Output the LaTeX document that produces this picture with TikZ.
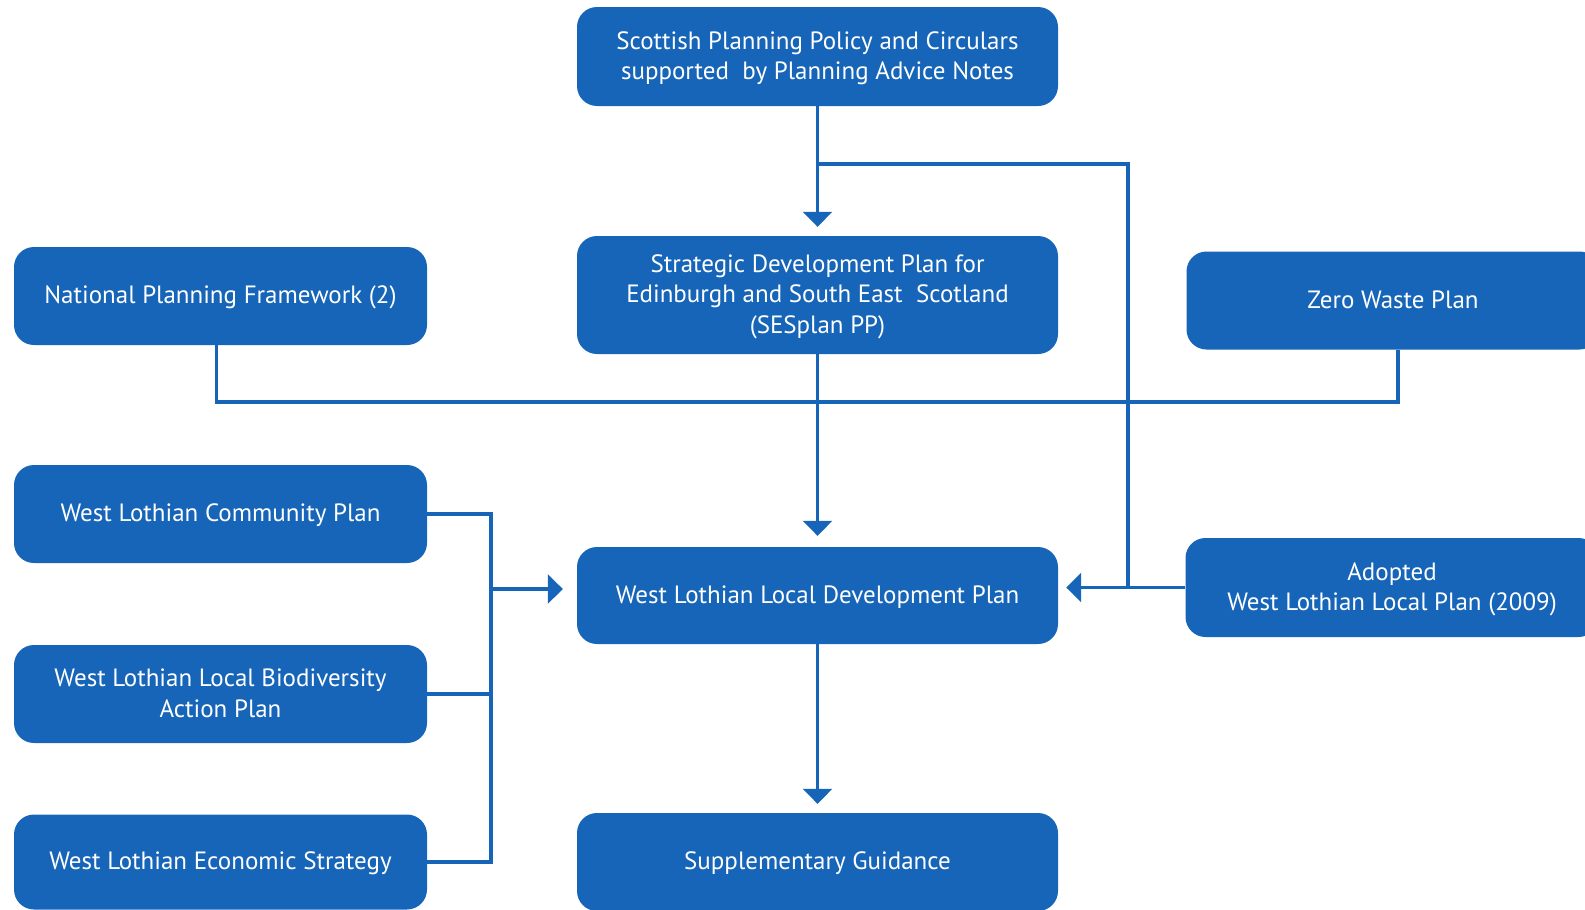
\documentclass[tikz,border=0pt]{standalone}
\usepackage{fontspec}
\setmainfont{PT Sans}
\usetikzlibrary{arrows.meta}
\definecolor{planblue}{RGB}{22,101,184}

\begin{document}
\begin{tikzpicture}[x=1pt, y=-1pt,
  plan/.style={fill=planblue, rounded corners=20pt, text=white, align=center,
    font=\fontsize{25}{30.5}\selectfont, text depth=2pt, minimum width=413pt, minimum height=98pt},
  link/.style={draw=planblue, line width=3.5pt},
  flow/.style={link, -{Triangle[length=15pt, width=29pt]}, shorten >=9pt}]
  \useasboundingbox (0, 0) rectangle (1585, 910);

  \node[plan, minimum width=481pt, minimum height=99pt] (spp) at (817.5, 56.5) {Scottish Planning Policy and Circulars\\supported\ \ by Planning Advice Notes};
  \node[plan, minimum width=481pt, minimum height=118pt] (sdp) at (817.5, 295) {Strategic Development Plan for\\Edinburgh and South East\ \ Scotland\\(SESplan PP)};
  \node[plan] (npf) at (220.5, 296) {National Planning Framework (2)};
  \node[plan] (zwp) at (1393, 300.5) {Zero Waste Plan};
  \node[plan, minimum height=99pt] (wllp) at (1392, 587.5) {Adopted\\West Lothian Local Plan (2009)};
  \node[plan, minimum width=481pt, minimum height=97pt] (ldp) at (817.5, 595.5) {West Lothian Local Development Plan};
  \node[plan] (wlcp) at (220.5, 514) {West Lothian Community Plan};
  \node[plan] (wlbap) at (220.5, 694) {West Lothian Local Biodiversity\\Action Plan};
  \node[plan, minimum height=95pt] (wles) at (220.5, 862) {West Lothian Economic Strategy};
  \node[plan, minimum width=481pt, minimum height=98pt] (sg) at (817.5, 862) {Supplementary Guidance};

  \coordinate (tj) at (817.5, 164);
  \coordinate (rj) at (1128, 588);
  \coordinate (hj) at (817.5, 402);
  \coordinate (lj) at (491, 589);

  \draw[flow] (spp) -- (sdp);
  \draw[link] (tj) -| (rj);
  \draw[flow, shorten >=8pt] (wllp.west) -- (wllp.west -| ldp.east);
  \draw[link] ([xshift=-4pt]npf.south) |- (hj) -| ([xshift=5pt]zwp.south);
  \draw[flow, shorten >=11pt] (sdp) -- (ldp);
  \draw[flow] (ldp) -- (sg);
  \draw[link] (wlcp.east) -| (lj |- wles.east) -- (wles.east);
  \draw[link] (wlbap.east) -- (wlbap.east -| lj);
  \draw[flow, shorten >=14pt] (lj) -- (lj -| ldp.west);
\end{tikzpicture}
\end{document}
